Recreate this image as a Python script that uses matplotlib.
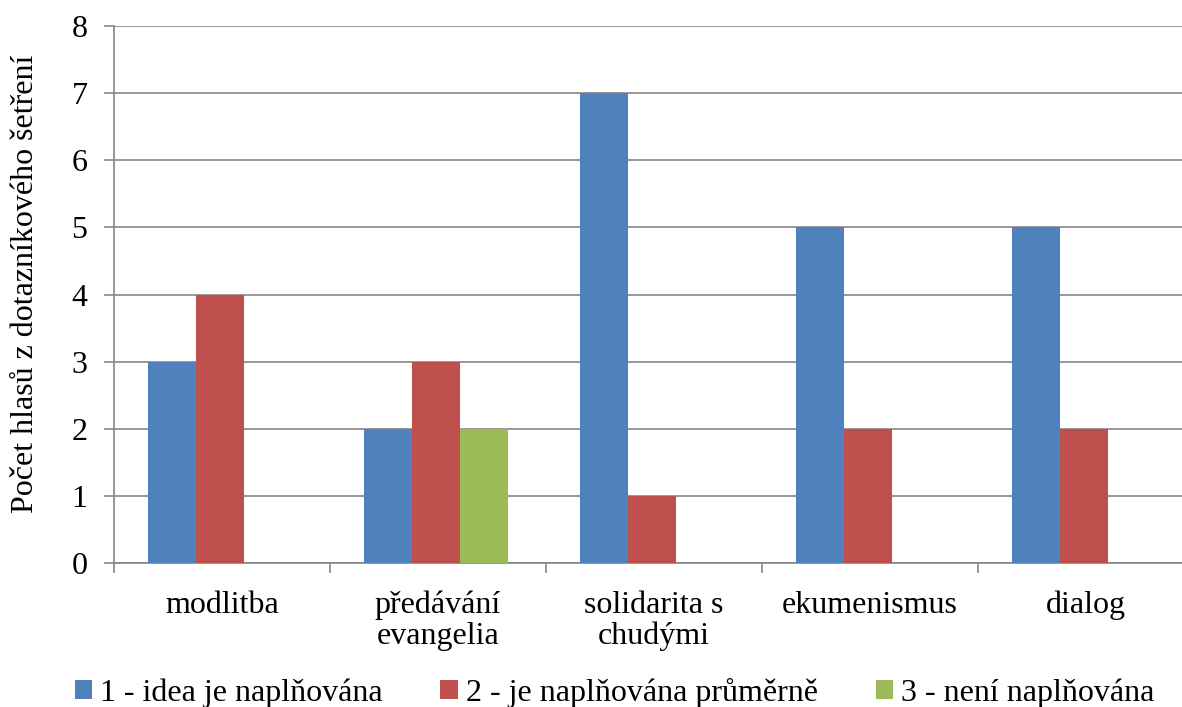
import matplotlib
matplotlib.use("Agg")
import matplotlib.pyplot as plt
import numpy as np

categories = ["modlitba", "předávání\nevangelia", "solidarita s\nchudými", "ekumenismus", "dialog"]
series_names = ["1 - idea je naplňována", "2 - je naplňována průměrně", "3 - není naplňována"]
s1 = [3, 2, 7, 5, 5]
s2 = [4, 3, 1, 2, 2]
s3 = [0, 2, 0, 0, 0]
colors = ["#4F81BD", "#C0504D", "#9BBB59"]
ylabel = "Počet hlasů z dotazníkového šetření"

plt.rcParams['font.family'] = ['Liberation Serif', 'DejaVu Serif']

fig = plt.figure(figsize=(11.82, 7.07), dpi=100)
ax = fig.add_axes([114/1182, 1-563/707, 1080/1182, (563-26)/707])

n = len(categories)
x = np.arange(n)
w = 48/216
for i, (vals, c, name) in enumerate(zip([s1, s2, s3], colors, series_names)):
    ax.bar(x + (i-1)*w - 0.01, vals, width=w, color=c, label=name, zorder=3)

ax.set_xlim(-0.5, n-0.5)
ax.set_ylim(0, 8)
ax.set_yticks(range(0, 9))
ax.yaxis.grid(True, color="#868686", linewidth=1.2, zorder=0)
ax.set_xticks(x)
ax.set_xticklabels(categories, fontsize=23, linespacing=1.08)
ax.tick_params(axis='x', length=0, pad=20)
ax.set_xticks(np.arange(-0.5, n+0.5, 1), minor=True)
ax.tick_params(axis='x', which='minor', length=7, color="#868686", width=1.2)
ax.tick_params(axis='y', labelsize=23, length=7, color="#868686", width=1.2, direction='out', pad=12)
for s in ['top', 'right']:
    ax.spines[s].set_visible(False)
for s in ['left', 'bottom']:
    ax.spines[s].set_color("#868686")
    ax.spines[s].set_linewidth(1.2)
ax.set_ylabel(ylabel, fontsize=23, labelpad=23)
ax.yaxis.label.set_y(0.5205)

fig.legend(loc='lower center', bbox_to_anchor=(0.520, -0.042), ncol=3, frameon=False,
           fontsize=23, handlelength=0.55, handleheight=0.55, handletextpad=0.25, columnspacing=1.8)

fig.savefig("out.png", dpi=100)
